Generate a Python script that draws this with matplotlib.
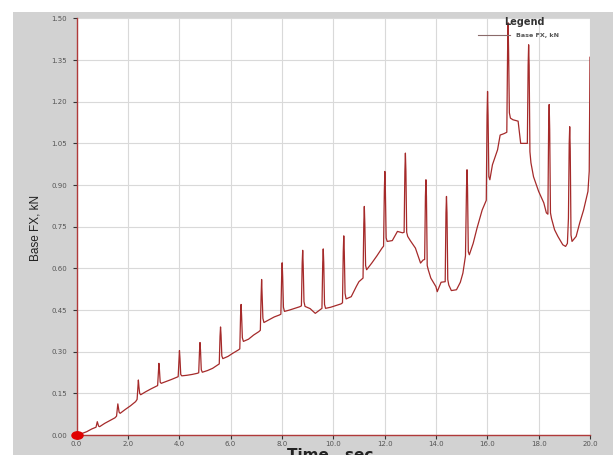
import matplotlib
matplotlib.use("Agg")
import matplotlib.pyplot as plt
from matplotlib.path import Path
from matplotlib.transforms import Affine2D
from matplotlib.patches import Rectangle
from matplotlib.lines import Line2D

# ---- data ----
time_s = [
    0.0, 0.2, 0.4, 0.6, 0.76, 0.79, 0.81, 0.83, 0.86, 0.9,
    1.1, 1.3, 1.5, 1.56, 1.59, 1.61, 1.63, 1.66, 1.7,
    1.9, 2.1, 2.3, 2.36, 2.39, 2.41, 2.43, 2.46, 2.5,
    2.7, 2.9, 3.1, 3.16, 3.19, 3.21, 3.23, 3.26, 3.3,
    3.5, 3.7, 3.9, 3.96, 3.99, 4.01, 4.03, 4.06, 4.1,
    4.3, 4.5, 4.7, 4.76, 4.79, 4.81, 4.83, 4.86, 4.9,
    5.1, 5.3, 5.5, 5.56, 5.59, 5.61, 5.63, 5.66, 5.7,
    5.9, 6.1, 6.3, 6.36, 6.39, 6.41, 6.43, 6.46, 6.5,
    6.7, 6.9, 7.1, 7.16, 7.19, 7.21, 7.23, 7.26, 7.3,
    7.5, 7.7, 7.9, 7.96, 7.99, 8.01, 8.03, 8.06, 8.1,
    8.3, 8.5, 8.7, 8.76, 8.79, 8.81, 8.83, 8.86, 8.9,
    9.1, 9.3, 9.4, 9.5, 9.56, 9.59, 9.61, 9.63, 9.66, 9.7,
    9.9, 10.1, 10.3, 10.36, 10.39, 10.41, 10.43, 10.46, 10.5,
    10.7, 10.9, 11.0, 11.1, 11.16, 11.19, 11.21, 11.23, 11.26, 11.3,
    11.5, 11.7, 11.9, 11.96, 11.99, 12.01, 12.03, 12.06, 12.1,
    12.3, 12.5, 12.7, 12.76, 12.79, 12.81, 12.83, 12.86, 12.9,
    13.0, 13.2, 13.4, 13.5, 13.56, 13.59, 13.61, 13.63, 13.66, 13.7,
    13.8, 14.0, 14.05, 14.2, 14.36, 14.39, 14.41, 14.43, 14.46, 14.5,
    14.6, 14.8, 14.95, 15.05, 15.15, 15.19, 15.21, 15.23, 15.26, 15.3,
    15.45, 15.6, 15.8, 15.96, 15.99, 16.01, 16.03, 16.06, 16.1,
    16.2, 16.4, 16.5, 16.65, 16.76, 16.79, 16.81, 16.83, 16.86, 16.9,
    17.0, 17.2, 17.3, 17.5, 17.56, 17.59, 17.61, 17.63, 17.66, 17.7,
    17.8, 18.0, 18.2, 18.3, 18.36, 18.39, 18.41, 18.43, 18.46, 18.5,
    18.62, 18.75, 18.94, 19.05, 19.12, 19.16, 19.19, 19.21, 19.23, 19.26, 19.3,
    19.46, 19.6, 19.75, 19.92, 19.97, 20.0,
]
base_fx = [
    0.0, 0.005, 0.012, 0.022, 0.028, 0.040, 0.048, 0.042, 0.032, 0.030,
    0.042, 0.052, 0.062, 0.068, 0.095, 0.112, 0.100, 0.082, 0.078,
    0.092, 0.105, 0.120, 0.128, 0.170, 0.198, 0.175, 0.150, 0.145,
    0.156, 0.166, 0.175, 0.178, 0.230, 0.258, 0.235, 0.190, 0.186,
    0.193, 0.200, 0.208, 0.210, 0.270, 0.304, 0.275, 0.218, 0.213,
    0.215, 0.218, 0.222, 0.224, 0.300, 0.333, 0.305, 0.235, 0.226,
    0.232, 0.240, 0.252, 0.256, 0.355, 0.389, 0.360, 0.285, 0.275,
    0.283, 0.295, 0.306, 0.310, 0.430, 0.470, 0.430, 0.350, 0.337,
    0.345, 0.360, 0.372, 0.377, 0.500, 0.560, 0.500, 0.420, 0.405,
    0.415, 0.425, 0.432, 0.435, 0.570, 0.620, 0.570, 0.460, 0.445,
    0.450, 0.456, 0.462, 0.465, 0.620, 0.665, 0.610, 0.480, 0.463,
    0.455, 0.438, 0.445, 0.452, 0.456, 0.620, 0.670, 0.620, 0.470, 0.456,
    0.460, 0.466, 0.472, 0.476, 0.660, 0.717, 0.660, 0.510, 0.490,
    0.498, 0.535, 0.552, 0.560, 0.565, 0.760, 0.823, 0.760, 0.610, 0.595,
    0.619, 0.645, 0.673, 0.680, 0.880, 0.949, 0.880, 0.710, 0.697,
    0.700, 0.733, 0.728, 0.730, 0.950, 1.015, 0.950, 0.730, 0.715,
    0.700, 0.673, 0.619, 0.630, 0.632, 0.860, 0.919, 0.860, 0.610, 0.595,
    0.565, 0.534, 0.516, 0.550, 0.552, 0.800, 0.859, 0.800, 0.560, 0.540,
    0.520, 0.523, 0.550, 0.583, 0.645, 0.890, 0.955, 0.890, 0.660, 0.649,
    0.690, 0.745, 0.810, 0.845, 1.150, 1.237, 1.150, 0.930, 0.919,
    0.973, 1.027, 1.080, 1.085, 1.090, 1.380, 1.484, 1.380, 1.160, 1.141,
    1.135, 1.130, 1.050, 1.050, 1.050, 1.330, 1.405, 1.330, 1.020, 0.980,
    0.930, 0.877, 0.836, 0.800, 0.795, 1.120, 1.190, 1.100, 0.800, 0.780,
    0.739, 0.715, 0.685, 0.679, 0.690, 0.780, 1.050, 1.110, 1.030, 0.720, 0.697,
    0.715, 0.764, 0.810, 0.877, 0.950, 1.360,
]
x_ticks = [0, 2, 4, 6, 8, 10, 12, 14, 16, 18, 20]
y_ticks = [0.0, 0.15, 0.30, 0.45, 0.60, 0.75, 0.90, 1.05, 1.20, 1.35, 1.50]
series_name = "Base FX, kN"

W, H = 613, 455
fig = plt.figure(figsize=(W / 100, H / 100), dpi=100, facecolor="white")

# gray panel behind the plot (own background axes)
bg = fig.add_axes([0, 0, 1, 1], zorder=-10)
bg.set_axis_off()
bg.set_xlim(0, 1)
bg.set_ylim(0, 1)
bg.add_patch(Rectangle((13 / W, 0), 1 - 13 / W, 1 - 12 / H,
                       facecolor="#d2d2d2", edgecolor="none"))

ax = fig.add_axes([76.5 / W, 20 / H, (590 - 76.5) / W, (435 - 18.4) / H], zorder=1)
ax.set_facecolor("white")
ax.set_xlim(0, 20)
ax.set_ylim(0, 1.5)

line_color = "#a52a2a"
ax.plot(time_s, base_fx, color=line_color, lw=0.9, zorder=3)

# red marker at origin (elliptical)
ell = Path.unit_circle().transformed(Affine2D().scale(1.5, 1.0))
ax.plot([0], [0], marker=ell, ms=8, color="#e00000", mec="#e00000",
        clip_on=False, zorder=5, ls="none")

ax.set_xticks(x_ticks)
ax.set_xticklabels([f"{v:.1f}" for v in x_ticks])
ax.set_yticks(y_ticks)
ax.set_yticklabels([f"{v:.2f}" for v in y_ticks])
ax.grid(True, color="#d9d9d9", lw=0.8, zorder=0)
ax.set_axisbelow(True)

for side in ("top", "right"):
    ax.spines[side].set_visible(False)
for side in ("left", "bottom"):
    ax.spines[side].set_color("#b03a3a")
    ax.spines[side].set_linewidth(1.0)

ax.tick_params(axis="both", direction="out", length=3, width=0.8,
               color="#333333", labelsize=5, labelcolor="#555555")
ax.tick_params(axis="x", pad=1)
ax.tick_params(axis="y", pad=4)

# y label
fig.text(35 / W, 1 - 228 / H, "Base FX, kN", rotation=90, ha="center",
         va="center", fontsize=8.5, color="#222222",
         family=["Liberation Sans Narrow", "Liberation Sans", "DejaVu Sans"])
# x label (clipped at the bottom edge as in the reference)
fig.text(330 / W, 1 - 448 / H, "Time , sec", ha="center", va="top",
         fontsize=11, fontweight="bold", color="#222222")

# legend
fig.text(524 / W, 1 - 22 / H, "Legend", ha="center", va="center",
         fontsize=7, fontweight="bold", color="#333333")
fig.add_artist(Line2D([478 / W, 510 / W], [1 - 35 / H, 1 - 35 / H],
                      transform=fig.transFigure, color="#8a6a6a", lw=0.8))
fig.text(516 / W, 1 - 35 / H, series_name, ha="left", va="center",
         fontsize=4.6, fontweight="bold", color="#555555")

fig.savefig("out.png", dpi=100, facecolor=fig.get_facecolor())
